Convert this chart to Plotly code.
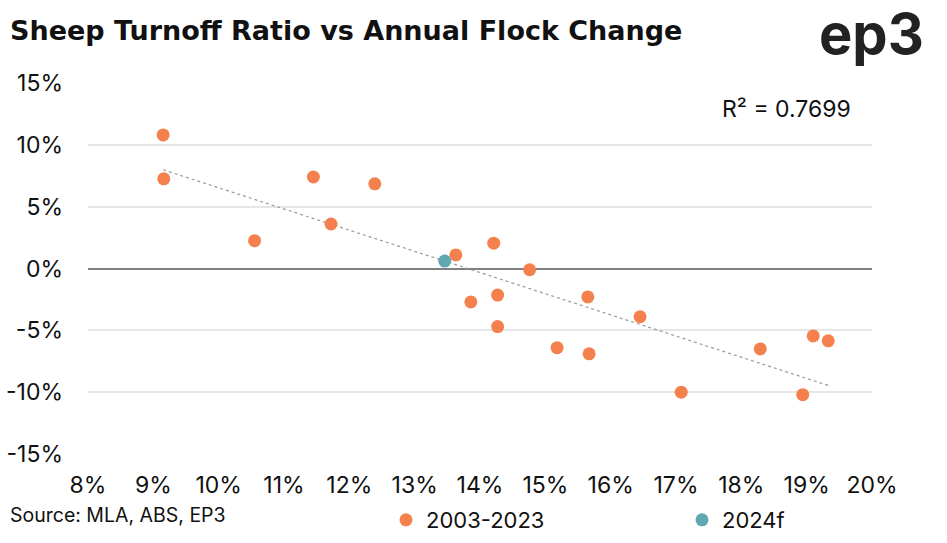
import numpy as np
import plotly.graph_objects as go

# Data: turnoff ratio (%) and annual flock change (%)
turnoff_hist = [9.15, 9.16, 10.55, 11.45, 11.72, 12.39, 13.63, 13.86, 14.21, 14.27, 14.27,
                14.76, 15.18, 15.65, 15.67, 16.45, 17.08, 18.29, 18.94, 19.10, 19.33]
flock_hist = [10.8, 7.25, 2.25, 7.4, 3.6, 6.85, 1.1, -2.7, 2.05, -2.15, -4.7,
              -0.1, -6.4, -2.3, -6.9, -3.9, -10.0, -6.5, -10.2, -5.45, -5.85]
turnoff_fc = [13.46]
flock_fc = [0.6]

series_names = ["2003-2023", "2024f"]
r2_label = "R² = 0.7699"
title_text = "Sheep Turnoff Ratio vs Annual Flock Change"
source_text = "Source: MLA, ABS, EP3"
logo_text = "ep3"
x_ticks = list(range(8, 21))
y_ticks = list(range(-15, 16, 5))

ORANGE = "#F4804D"
TEAL = "#5FA8B2"
FONT = "Inter"

W, H = 947, 543
ML, MR, MT, MB = 88, 75, 83, 89
PW, PH = W - ML - MR, H - MT - MB


def px_x(x):
    return (x - ML) / PW


def px_y(y):
    return (H - MB - y) / PH


# Linear trend computed from the historical series
coef = np.polyfit(turnoff_hist, flock_hist, 1)
tx = np.array([min(turnoff_hist), max(turnoff_hist)])
ty = np.polyval(coef, tx)

fig = go.Figure()
fig.add_trace(go.Scatter(x=tx, y=ty, mode="lines", showlegend=False, hoverinfo="skip",
                         line=dict(color="#9a9a9a", width=1.2, dash="dot")))
fig.add_trace(go.Scatter(x=turnoff_hist, y=flock_hist, mode="markers", name=series_names[0],
                         marker=dict(color=ORANGE, size=13), legend="legend"))
fig.add_trace(go.Scatter(x=turnoff_fc, y=flock_fc, mode="markers", name=series_names[1],
                         marker=dict(color=TEAL, size=13), legend="legend2"))

legend_common = dict(orientation="h", xanchor="left", yanchor="middle", y=px_y(520),
                     itemwidth=30, font=dict(size=22, color="#111111"),
                     bgcolor="rgba(0,0,0,0)", borderwidth=0)

fig.update_layout(
    width=W, height=H,
    margin=dict(l=ML, r=MR, t=MT, b=MB, autoexpand=False),
    paper_bgcolor="white", plot_bgcolor="white",
    font=dict(family=FONT, color="#222222", size=23),
    title=dict(text="<b>" + title_text + "</b>", xref="container", yref="container",
               x=10 / W, xanchor="left", y=1 - 31 / H, yanchor="middle",
               font=dict(family="DejaVu Sans", size=27, color="#111111")),
    xaxis=dict(range=[8, 20], tickvals=x_ticks, ticktext=[f"{v}%" for v in x_ticks],
               showgrid=False, zeroline=False, showline=False, ticks="",
               tickfont=dict(size=23, color="#111111"), ticklabelstandoff=15),
    yaxis=dict(range=[-15, 15], tickvals=y_ticks, ticktext=[f"{v}%" for v in y_ticks],
               showgrid=True, gridcolor="#E6E6E6", gridwidth=1.5,
               zeroline=True, zerolinecolor="#808080", zerolinewidth=2,
               showline=False, ticks="", tickfont=dict(size=23, color="#111111"),
               ticklabelstandoff=24),
    legend=dict(x=px_x(386), **legend_common),
    legend2=dict(x=px_x(682), **legend_common),
    showlegend=True,
)

fig.add_annotation(text=r2_label, xref="paper", yref="paper", x=px_x(853),
                   y=px_y(109), xanchor="right", yanchor="middle",
                   showarrow=False, font=dict(size=23, color="#111111"))
fig.add_annotation(text=source_text, xref="paper", yref="paper", x=px_x(8),
                   y=px_y(515), xanchor="left", yanchor="middle",
                   showarrow=False, font=dict(size=19.5, color="#111111"))
fig.add_annotation(text="<b>" + logo_text + "</b>", xref="paper", yref="paper", x=px_x(926),
                   y=px_y(34), xanchor="right", yanchor="middle",
                   showarrow=False, font=dict(size=56, color="#222222", family=FONT, weight=900))

fig.write_html("out.html", config={"displayModeBar": False},
               post_script="document.body.style.margin='0';")
